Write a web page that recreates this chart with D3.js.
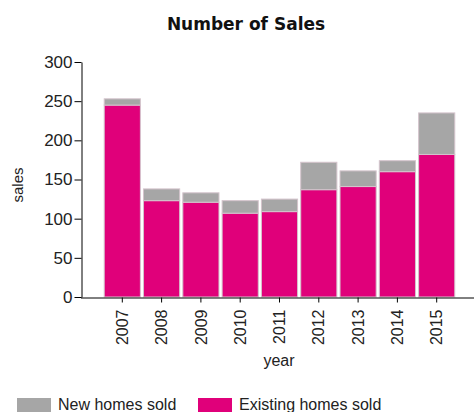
<!DOCTYPE html>
<html>
<head>
<meta charset="utf-8">
<script src="https://cdn.jsdelivr.net/npm/d3@7"></script>
<style>
  html, body { margin: 0; padding: 0; background: #fff; }
  svg { display: block; }
  text { font-family: "Liberation Sans", Arial, sans-serif; }
</style>
</head>
<body>
<svg id="chart" width="476" height="412"></svg>
<script>
// Home sales per year, split into existing and new homes
const years = ["2007", "2008", "2009", "2010", "2011", "2012", "2013", "2014", "2015"];
const existingHomes = [245, 123, 121, 107, 109, 137, 141, 160, 182];
const newHomes = [8, 15, 12, 16, 16, 35, 20, 14, 53];
const yTicks = [0, 50, 100, 150, 200, 250, 300];

const seriesNames = ["Existing homes sold", "New homes sold"];
const colors = { "Existing homes sold": "#e0007a", "New homes sold": "#a6a6a6" };

const rows = years.map((y, i) => ({
  year: y,
  "Existing homes sold": existingHomes[i],
  "New homes sold": newHomes[i]
}));

const svg = d3.select("#chart");

const x = d3.scaleBand()
  .domain(years)
  .range([83, 476])
  .paddingInner(0.08)
  .paddingOuter(0.54);

const y = d3.scaleLinear()
  .domain([0, 300])
  .range([297, 62]);

// Title
svg.append("text")
  .attr("x", 246)
  .attr("y", 30)
  .attr("text-anchor", "middle")
  .style("font-family", "'DejaVu Sans', Verdana, sans-serif")
  .style("font-weight", "bold")
  .style("font-size", "17px")
  .attr("fill", "#111")
  .text("Number of Sales");

// Stacked bars
const stacked = d3.stack().keys(seriesNames)(rows);

svg.append("g")
  .selectAll("g")
  .data(stacked)
  .join("g")
  .attr("fill", d => colors[d.key])
  .selectAll("rect")
  .data(d => d)
  .join("rect")
  .attr("x", d => x(d.data.year))
  .attr("width", x.bandwidth())
  .attr("y", d => y(d[1]))
  .attr("height", d => y(d[0]) - y(d[1]))
  .attr("stroke", "#d4c4cc")
  .attr("stroke-width", 1);

// Y axis
const yAxis = svg.append("g")
  .attr("transform", "translate(81.5,0)")
  .call(d3.axisLeft(y).tickValues(yTicks).tickSize(7).tickSizeOuter(0).tickPadding(2));
yAxis.select(".domain").attr("stroke", "#000");
yAxis.selectAll(".tick line").attr("stroke", "#000");
yAxis.selectAll(".tick text")
  .style("font-size", "17px")
  .style("font-family", "'Liberation Sans', Arial, sans-serif")
  .attr("fill", "#222");

// X axis
const xAxis = svg.append("g")
  .attr("transform", "translate(0,297.5)")
  .call(d3.axisBottom(x).tickSize(5).tickSizeOuter(0));
xAxis.select(".domain").attr("stroke", "#000").attr("d", "M81,0.5H474");
xAxis.selectAll(".tick line").attr("stroke", "#000");
xAxis.selectAll(".tick text")
  .style("font-size", "16px")
  .style("font-family", "'Liberation Sans', Arial, sans-serif")
  .attr("fill", "#222")
  .attr("transform", "rotate(-90)")
  .attr("text-anchor", "end")
  .attr("x", -12)
  .attr("y", 0)
  .attr("dy", "0.35em");

// Axis titles
svg.append("text")
  .attr("transform", "translate(23,185) rotate(-90)")
  .attr("text-anchor", "middle")
  .style("font-size", "15px")
  .attr("fill", "#222")
  .text("sales");

svg.append("text")
  .attr("x", 279)
  .attr("y", 366)
  .attr("text-anchor", "middle")
  .style("font-size", "16px")
  .attr("fill", "#222")
  .text("year");

// Legend
const legendItems = [
  { name: "New homes sold", x: 17 },
  { name: "Existing homes sold", x: 198 }
];
const legend = svg.append("g").selectAll("g")
  .data(legendItems)
  .join("g")
  .attr("transform", d => `translate(${d.x},398)`);
legend.append("rect")
  .attr("width", 34)
  .attr("height", 14)
  .attr("fill", d => colors[d.name]);
legend.append("text")
  .attr("x", 41)
  .attr("y", 11.5)
  .style("font-size", "16px")
  .attr("fill", "#222")
  .text(d => d.name);
</script>
</body>
</html>
